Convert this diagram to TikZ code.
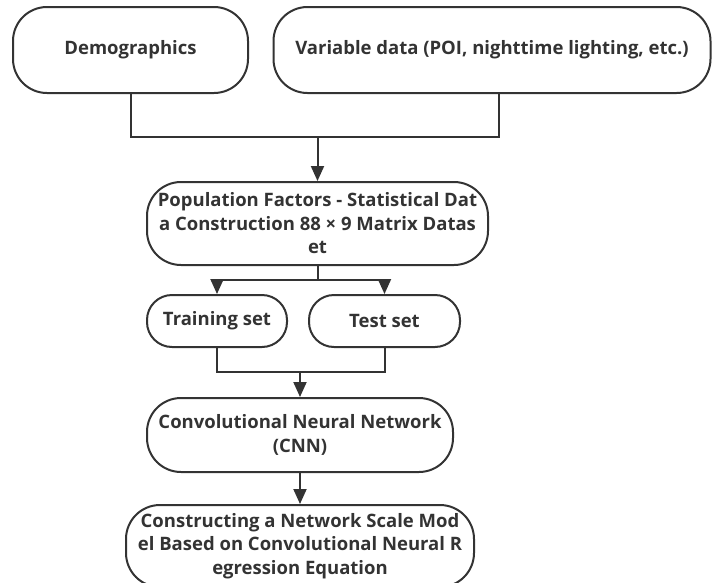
\documentclass[tikz,border=0pt]{standalone}
\usepackage{fontspec}
\setmainfont{Open Sans}
\usepackage{tikz}
\usetikzlibrary{arrows.meta,positioning}
\definecolor{inkgray}{HTML}{333333}
\tikzset{
  flowbox/.style={draw=inkgray,line width=2pt,rounded corners=34pt,align=center,
    text=inkgray,font=\bfseries\fontsize{18.5}{23.5}\selectfont,inner sep=0pt},
  flowline/.style={draw=inkgray,line width=2pt},
  flowarrow/.style={flowline,-{Triangle[length=15pt,width=13pt]}}
}

\begin{document}
\begin{tikzpicture}[x=1pt,y=-1pt]
    \useasboundingbox (0,0) rectangle (713,582);
    \node[flowbox,minimum width=235pt,minimum height=86pt] (demo) at (130.5,50) {Demographics};
    \node[flowbox,minimum width=437pt,minimum height=86pt] (vardata) at (492,50) {Variable data (POI, nighttime lighting, etc.)};
    \node[flowbox,minimum width=341pt,minimum height=83pt] (popdata) at (317.5,223.5) {Population Factors - Statistical Dat\\a Construction 88 × 9 Matrix Datas\\et};
    \node[flowbox,rounded corners=25pt,minimum width=140pt,minimum height=52pt] (train) at (217,321) {Training set};
    \node[flowbox,rounded corners=25pt,minimum width=151pt,minimum height=52pt] (test) at (384.5,321) {Test set};
    \node[flowbox,minimum width=306pt,minimum height=74pt] (cnn) at (300,435) {Convolutional Neural Network\\(CNN)};
    \node[flowbox,minimum width=348pt,minimum height=82pt] (model) at (300,546) {Constructing a Network Scale Mod\\el Based on Convolutional Neural R\\egression Equation};

    \coordinate (join1) at (popdata.north |- 0,137);
    \coordinate (split1) at (popdata.south |- 0,280);
    \coordinate (join2) at (cnn.north |- 0,372);
    \draw[flowline] (demo.south) |- (join1);
    \draw[flowline] ([xshift=7pt]vardata.south) |- (join1);
    \draw[flowarrow] (join1) -- (popdata.north);
    \draw[flowline] (popdata.south) -- (split1);
    \draw[flowarrow] (split1) -| (train.north);
    \draw[flowarrow] (split1) -| (test.north);
    \draw[flowline] (train.south) |- (join2);
    \draw[flowline] (test.south) |- (join2);
    \draw[flowarrow] (join2) -- (cnn.north);
    \draw[flowarrow] (cnn.south) -- (model.north);
\end{tikzpicture}
\end{document}
